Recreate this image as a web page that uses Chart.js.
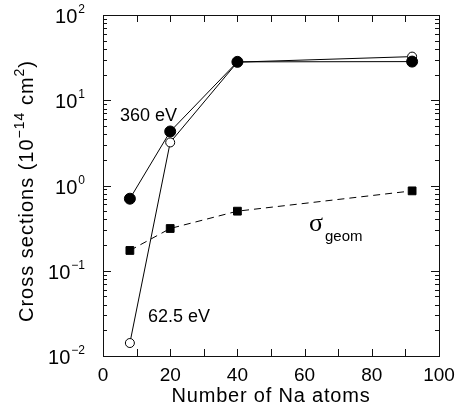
<!DOCTYPE html>
<html>
<head>
<meta charset="utf-8">
<style>
html,body{margin:0;padding:0;background:#fff;}
canvas{display:block;}
</style>
<script src="https://cdn.jsdelivr.net/npm/chart.js@4/dist/chart.umd.min.js"></script>
</head>
<body>
<canvas id="c" width="457" height="420"></canvas>
<script>
// ---- data ----
const naAtoms = [8, 20, 40, 92];
const cs360 = [0.70, 4.3, 28.2, 28.4];
const cs62 = [0.0142, 3.2, 28.0, 32.5];
const csGeom = [0.173, 0.313, 0.50, 0.865];
const xTickLabels = [0, 20, 40, 60, 80, 100];
const xMinorStep = 10;
const yTickExponents = [-2, -1, 0, 1, 2];
const label360 = "360 eV";
const label62 = "62.5 eV";
const xTitle = "Number of Na atoms";

const FONT = '"Liberation Sans", Arial, Helvetica, sans-serif';

function pts(xs, ys){ return xs.map((x,i)=>({x:x, y:ys[i]})); }

const decor = {
  id: 'decor',
  afterDraw(chart){
    const ctx = chart.ctx;
    const xs = chart.scales.x, ys = chart.scales.y;
    const a = chart.chartArea;
    ctx.save();
    // frame
    ctx.strokeStyle = '#111';
    ctx.lineWidth = 1;
    ctx.strokeRect(Math.round(a.left)+0.5, Math.round(a.top)+0.5, Math.round(a.right-a.left), Math.round(a.bottom-a.top));
    // x ticks
    ctx.beginPath();
    for (let v = xs.min; v <= xs.max; v += xMinorStep){
      const px = Math.round(xs.getPixelForValue(v))+0.5;
      ctx.moveTo(px, a.bottom); ctx.lineTo(px, a.bottom-7);
      ctx.moveTo(px, a.top); ctx.lineTo(px, a.top+7);
    }
    // y ticks
    for (let k = 0; k < yTickExponents.length; k++){
      const e = yTickExponents[k];
      const base = Math.pow(10, e);
      const py = Math.round(ys.getPixelForValue(base))+0.5;
      ctx.moveTo(a.left, py); ctx.lineTo(a.left+8, py);
      ctx.moveTo(a.right, py); ctx.lineTo(a.right-8, py);
      if (k < yTickExponents.length-1){
        for (let m = 2; m <= 9; m++){
          const pm = Math.round(ys.getPixelForValue(m*base))+0.5;
          ctx.moveTo(a.left, pm); ctx.lineTo(a.left+4, pm);
          ctx.moveTo(a.right, pm); ctx.lineTo(a.right-4, pm);
        }
      }
    }
    ctx.stroke();
    // x tick labels
    ctx.fillStyle = '#000';
    ctx.font = '19px ' + FONT;
    ctx.textAlign = 'center';
    ctx.textBaseline = 'alphabetic';
    xTickLabels.forEach(v => {
      ctx.fillText(String(v), xs.getPixelForValue(v), 381);
    });
    // y tick labels 10^e
    ctx.textAlign = 'left';
    yTickExponents.forEach(e => {
      const py = ys.getPixelForValue(Math.pow(10, e));
      const sup = (e < 0 ? '\u2212' : '') + Math.abs(e);
      ctx.font = '20px ' + FONT;
      const w1 = ctx.measureText('10').width;
      ctx.font = '12px ' + FONT;
      const w2 = ctx.measureText(sup).width;
      const right = 85;
      const x0 = right - w1 - w2 - 1;
      ctx.font = '20px ' + FONT;
      ctx.fillText('10', x0, py + 8);
      ctx.font = '12px ' + FONT;
      ctx.fillText(sup, x0 + w1 + 1, py - 2);
    });
    // x title
    ctx.font = '20px ' + FONT;
    ctx.textAlign = 'center';
    ctx.letterSpacing = '0.8px';
    ctx.fillText(xTitle, (a.left + a.right)/2, 402);
    ctx.letterSpacing = '0px';
    // y title (rotated), pieces
    ctx.save();
    ctx.translate(33, 322);
    ctx.rotate(-Math.PI/2);
    ctx.textAlign = 'left';
    const pieces = [
      ['Cross sections (10', '20px', 0],
      ['\u221214', '14px', -9],
      [' cm', '20px', 0],
      ['2', '14px', -9],
      [')', '20px', 0]
    ];
    let cx = 0;
    ctx.letterSpacing = '1px';
    pieces.forEach(p => {
      ctx.font = p[1] + ' ' + FONT;
      ctx.fillText(p[0], cx, p[2]);
      cx += ctx.measureText(p[0]).width;
    });
    ctx.restore();
    // annotations
    ctx.letterSpacing = '0px';
    ctx.textAlign = 'left';
    ctx.font = '18px ' + FONT;
    ctx.fillText(label360, 120, 121);
    ctx.fillText(label62, 148, 322);
    ctx.font = '26px "Liberation Serif", "DejaVu Serif", serif';
    ctx.fillText('\u03C3', 309, 231);
    ctx.font = '15px ' + FONT;
    ctx.fillText('geom', 325, 241);
    ctx.restore();
  }
};

new Chart(document.getElementById('c'), {
  type: 'scatter',
  data: {
    datasets: [
      {
        label: label360,
        data: pts(naAtoms, cs360),
        showLine: true,
        borderColor: '#000',
        borderWidth: 1,
        backgroundColor: '#000',
        pointStyle: 'circle',
        pointRadius: 5.5,
        pointBorderWidth: 1,
        pointBackgroundColor: '#000',
        pointBorderColor: '#000',
        clip: false
      },
      {
        label: label62,
        data: pts(naAtoms, cs62),
        showLine: true,
        borderColor: '#000',
        borderWidth: 1,
        backgroundColor: '#fff',
        pointStyle: 'circle',
        pointRadius: 4.5,
        pointBorderWidth: 1,
        pointBackgroundColor: '#fff',
        pointBorderColor: '#000',
        clip: false
      },
      {
        label: 'sigma_geom',
        data: pts(naAtoms, csGeom),
        showLine: true,
        borderColor: '#000',
        borderWidth: 1,
        borderDash: [7, 5],
        backgroundColor: '#000',
        pointStyle: 'rect',
        pointRadius: 5.5,
        pointBorderWidth: 1,
        pointBackgroundColor: '#000',
        pointBorderColor: '#000',
        clip: false
      }
    ]
  },
  options: {
    responsive: false,
    animation: false,
    devicePixelRatio: 1,
    layout: { padding: { left: 0, top: 15, right: 18, bottom: 0 } },
    plugins: { legend: { display: false }, tooltip: { enabled: false } },
    scales: {
      x: {
        type: 'linear', min: 0, max: 100,
        ticks: { display: false },
        grid: { display: false, drawTicks: false },
        border: { display: false },
        afterFit(s){ s.height = 64; }
      },
      y: {
        type: 'logarithmic', min: 0.01, max: 100,
        ticks: { display: false },
        grid: { display: false, drawTicks: false },
        border: { display: false },
        afterFit(s){ s.width = 103; }
      }
    }
  },
  plugins: [decor]
});
</script>
</body>
</html>
